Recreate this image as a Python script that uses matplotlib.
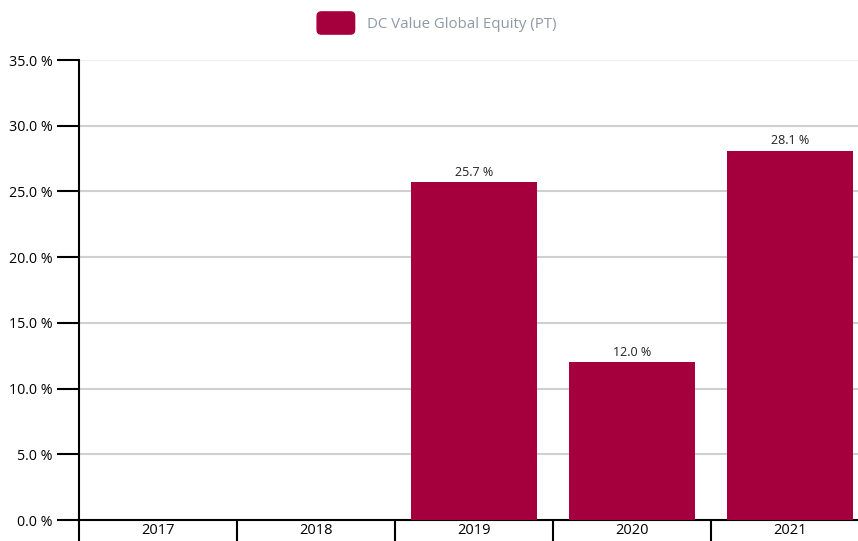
import numpy as np
import matplotlib.pyplot as plt
from matplotlib.patches import Patch, FancyBboxPatch
from matplotlib.legend_handler import HandlerPatch

plt.rcParams['font.family'] = ['Open Sans', 'DejaVu Sans']

years = ["2017", "2018", "2019", "2020", "2021"]
values = [np.nan, np.nan, 25.7, 12.0, 28.1]
series_name = "DC Value Global Equity (PT)"
bar_color = "#a5003d"


def rounded_box(legend, orig_handle, xdescent, ydescent, width, height, fontsize):
    return FancyBboxPatch((-xdescent, -ydescent), width, height,
                          boxstyle="round,pad=0,rounding_size=3")


fig = plt.figure(figsize=(8.58, 5.41), dpi=100)
ax = fig.add_axes([79 / 858, 1 - 520 / 541, 790 / 858, 460 / 541])

x = np.arange(len(years))
bars = ax.bar(x, values, width=0.8, color=bar_color, zorder=3)
for xi, v in zip(x, values):
    if not np.isnan(v):
        ax.text(xi, v + 0.25, f"{v:.1f} %", ha="center", va="bottom",
                fontsize=9, color="#222222", zorder=4)

ax.set_xlim(-0.5, len(years) - 0.5)
ax.set_ylim(0, 35)
yt = np.arange(0, 35.1, 5)
ax.set_yticks(yt)
ax.set_yticklabels([f"{t:.1f} %" for t in yt], fontsize=10.3)
for t in yt[1:]:
    ax.axhline(t, color="#eeeeee" if t == 35 else "#d0d0d0", lw=1.5, zorder=1)

ax.set_xticks(x)
ax.set_xticklabels(years, fontsize=10.5)
ax.set_xticks(np.arange(-0.5, len(years)), minor=True)
ax.tick_params(axis="x", which="major", length=0, pad=2)
ax.tick_params(axis="x", which="minor", length=15, width=1.5, color="black")
ax.tick_params(axis="y", length=16, width=1.5, color="black", pad=3)

for s in ["top", "right"]:
    ax.spines[s].set_visible(False)
for s in ["left", "bottom"]:
    ax.spines[s].set_linewidth(1.5)

leg = fig.legend(handles=[Patch(color=bar_color, label=series_name)],
                 handler_map={Patch: HandlerPatch(patch_func=rounded_box)},
                 loc="center", bbox_to_anchor=(437 / 858, 1 - 23 / 541), frameon=False,
                 fontsize=10.8, handlelength=2.5, handleheight=1.9, handletextpad=0.85)
for t in leg.get_texts():
    t.set_color("#8c9aa6")

fig.savefig("out.png", dpi=100)
